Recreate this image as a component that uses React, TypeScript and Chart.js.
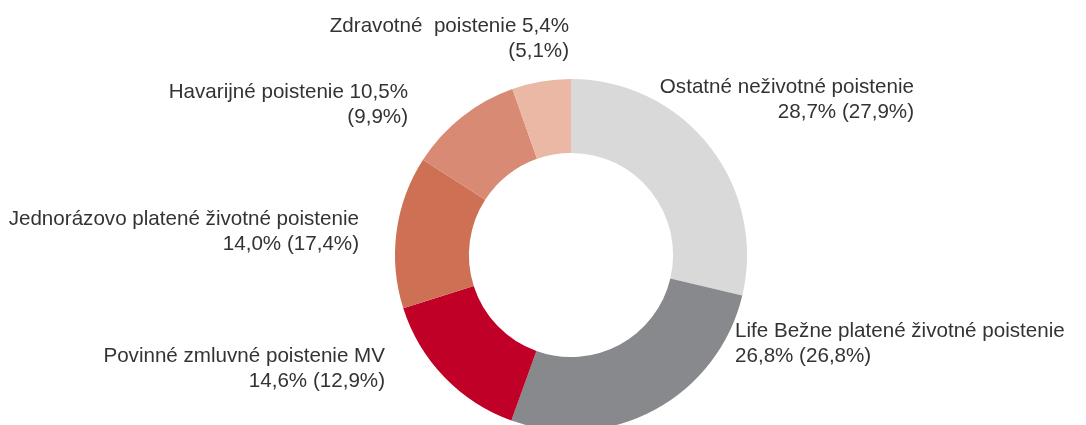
import React, { useEffect, useRef } from "react";
import { Chart, registerables } from "chart.js";

Chart.register(...registerables);

const categories = [
  "Ostatné neživotné poistenie",
  "Life Bežne platené životné poistenie",
  "Povinné zmluvné poistenie MV",
  "Jednorázovo platené životné poistenie",
  "Havarijné poistenie",
  "Zdravotné poistenie",
];
const shares = [28.7, 26.8, 14.6, 14.0, 10.5, 5.4];
const previousShares = [27.9, 26.8, 12.9, 17.4, 9.9, 5.1];
const colors = ["#d9d9d9", "#87898c", "#c00026", "#cd7053", "#d88a74", "#eab8a5"];

const fmt = (v: number) => v.toFixed(1).replace(".", ",") + "%";

// label text lines per slice
const labelLines: string[][] = [
  ["Ostatné neživotné poistenie", `${fmt(shares[0])} (${fmt(previousShares[0])})`],
  ["Life Bežne platené životné poistenie", `${fmt(shares[1])} (${fmt(previousShares[1])})`],
  ["Povinné zmluvné poistenie MV", `${fmt(shares[2])} (${fmt(previousShares[2])})`],
  ["Jednorázovo platené životné poistenie", `${fmt(shares[3])} (${fmt(previousShares[3])})`],
  [`Havarijné poistenie ${fmt(shares[4])}`, `(${fmt(previousShares[4])})`],
  [`Zdravotné  poistenie ${fmt(shares[5])}`, `(${fmt(previousShares[5])})`],
];
// label layout relative to doughnut centre: x anchor, first baseline, alignment
const labelLayout: { dx: number; dy: number; align: CanvasTextAlign }[] = [
  { dx: 343, dy: -162, align: "right" },
  { dx: 164, dy: 82, align: "left" },
  { dx: -186, dy: 107, align: "right" },
  { dx: -212, dy: -30, align: "right" },
  { dx: -163, dy: -157, align: "right" },
  { dx: -2, dy: -223, align: "right" },
];

const labelPlugin = {
  id: "sliceLabels",
  afterDraw(chart: any) {
    const arc = chart.getDatasetMeta(0).data[0];
    if (!arc) return;
    const cx = arc.x;
    const cy = arc.y;
    const ctx = chart.ctx;
    ctx.save();
    ctx.font = '20.6px "Liberation Sans", Arial, sans-serif';
    ctx.fillStyle = "#333333";
    ctx.textBaseline = "alphabetic";
    labelLines.forEach((lines, i) => {
      const l = labelLayout[i];
      ctx.textAlign = l.align;
      lines.forEach((t, j) => {
        ctx.fillText(t, cx + l.dx, cy + l.dy + j * 25);
      });
    });
    ctx.restore();
  },
};

export default function App() {
  const ref = useRef<HTMLCanvasElement>(null);
  useEffect(() => {
    if (!ref.current) return;
    const chart = new Chart(ref.current, {
      type: "doughnut",
      data: {
        labels: categories,
        datasets: [
          {
            data: shares,
            backgroundColor: colors,
            borderWidth: 0,
          },
        ],
      },
      options: {
        responsive: false,
        animation: false,
        cutout: "58%",
        rotation: 0,
        layout: { padding: { left: 395, right: 339, top: 79, bottom: 9 } },
        plugins: {
          legend: { display: false },
          tooltip: { enabled: false },
        },
      },
      plugins: [labelPlugin],
    });
    return () => chart.destroy();
  }, []);
  return (
    <div
      style={{
        position: "fixed",
        left: 0,
        top: 0,
        width: 1086,
        height: 425,
        overflow: "hidden",
        background: "#ffffff",
      }}
    >
      <canvas ref={ref} width={1086} height={440} style={{ display: "block" }} />
    </div>
  );
}
